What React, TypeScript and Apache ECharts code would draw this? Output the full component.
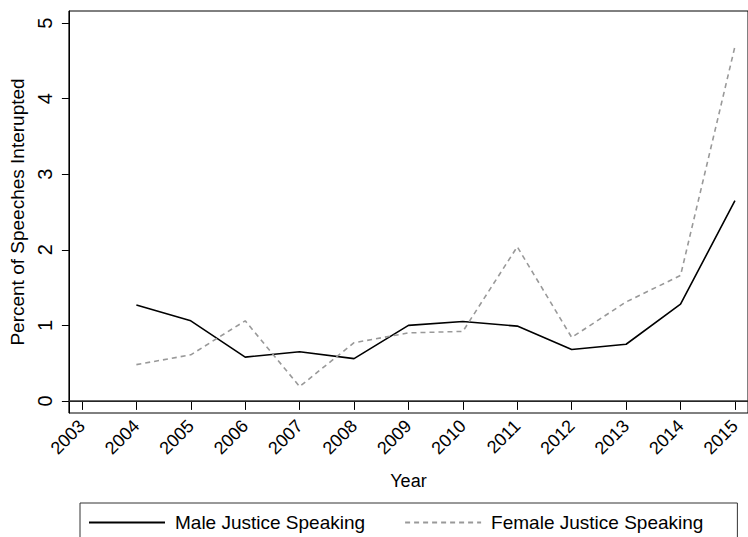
import React, { useEffect, useRef } from "react";
import * as echarts from "echarts";

const years = [2004, 2005, 2006, 2007, 2008, 2009, 2010, 2011, 2012, 2013, 2014, 2015];
const maleValues = [1.27, 1.06, 0.58, 0.65, 0.56, 1.0, 1.05, 0.99, 0.68, 0.75, 1.28, 2.65];
const femaleValues = [0.48, 0.61, 1.06, 0.19, 0.77, 0.9, 0.92, 2.04, 0.84, 1.31, 1.66, 4.69];
const xTicks = [2003, 2004, 2005, 2006, 2007, 2008, 2009, 2010, 2011, 2012, 2013, 2014, 2015];
const yTicks = [0, 1, 2, 3, 4, 5];

const FONT = "'Liberation Sans', Arial, Helvetica, sans-serif";

export default function App() {
  const ref = useRef<HTMLDivElement>(null);
  useEffect(() => {
    document.body.style.margin = "0";
    const chart = echarts.init(ref.current!, null, { renderer: "svg" });
    const male = years.map((y, i) => [y, maleValues[i]]);
    const female = years.map((y, i) => [y, femaleValues[i]]);
    chart.setOption({
      animation: false,
      backgroundColor: "#ffffff",
      textStyle: { fontFamily: FONT, color: "#000" },
      grid: {
        left: 64,
        top: 11,
        right: -13,
        bottom: 124,
        show: true,
        borderColor: "#000",
        borderWidth: 1,
        backgroundColor: "#fff",
      },
      xAxis: {
        type: "value",
        min: 2002.76,
        max: 2015.24,
        name: "Year",
        nameLocation: "middle",
        nameGap: 59,
        nameTextStyle: { fontSize: 18, color: "#000", fontFamily: FONT },
        axisLine: { show: true, lineStyle: { color: "#000", width: 1 } },
        axisTick: { show: true, length: 9, customValues: xTicks, lineStyle: { color: "#000", width: 1 } },
        axisLabel: {
          customValues: xTicks,
          rotate: 45,
          margin: 10,
          fontSize: 18,
          color: "#000",
          fontFamily: FONT,
          formatter: (v: number) => String(v),
        },
        splitLine: { show: false },
      },
      yAxis: {
        type: "value",
        min: -0.16,
        max: 5.16,
        name: "Percent of Speeches Interupted",
        nameLocation: "middle",
        nameGap: 34,
        nameRotate: 90,
        nameTextStyle: { fontSize: 19, color: "#000", fontFamily: FONT },
        axisLine: { show: true, lineStyle: { color: "#000", width: 1 } },
        axisTick: { show: true, length: 7, customValues: yTicks, lineStyle: { color: "#000", width: 1 } },
        axisLabel: {
          customValues: yTicks,
          rotate: 90,
          margin: 14,
          fontSize: 20,
          color: "#000",
          fontFamily: FONT,
        },
        splitLine: { show: false },
      },
      legend: {
        left: 80,
        top: 503,
        padding: [10, 34, 40, 8],
        itemGap: 39,
        itemWidth: 76,
        itemHeight: 14,
        borderColor: "#333",
        borderWidth: 1,
        itemStyle: { opacity: 0 },
        textStyle: { fontSize: 19, color: "#000", fontFamily: FONT, padding: [0, 0, 0, 5] },
        data: ["Male Justice Speaking", "Female Justice Speaking"],
      },
      series: [
        {
          name: "Male Justice Speaking",
          type: "line",
          data: male,
          symbol: "none",
          lineStyle: { color: "#000", width: 1.6 },
          itemStyle: { color: "#000" },
          markLine: {
            silent: true,
            symbol: "none",
            label: { show: false },
            lineStyle: { color: "#333", width: 1.6, type: "solid" },
            data: [{ yAxis: 0 }],
          },
        },
        {
          name: "Female Justice Speaking",
          type: "line",
          data: female,
          symbol: "none",
          lineStyle: { color: "#999", width: 1.6, type: [5, 4] },
          itemStyle: { color: "#999" },
        },
      ],
    });
    return () => chart.dispose();
  }, []);
  return (
    <div
      ref={ref}
      style={{ position: "fixed", left: 0, top: 0, width: 748, height: 537 }}
    />
  );
}
